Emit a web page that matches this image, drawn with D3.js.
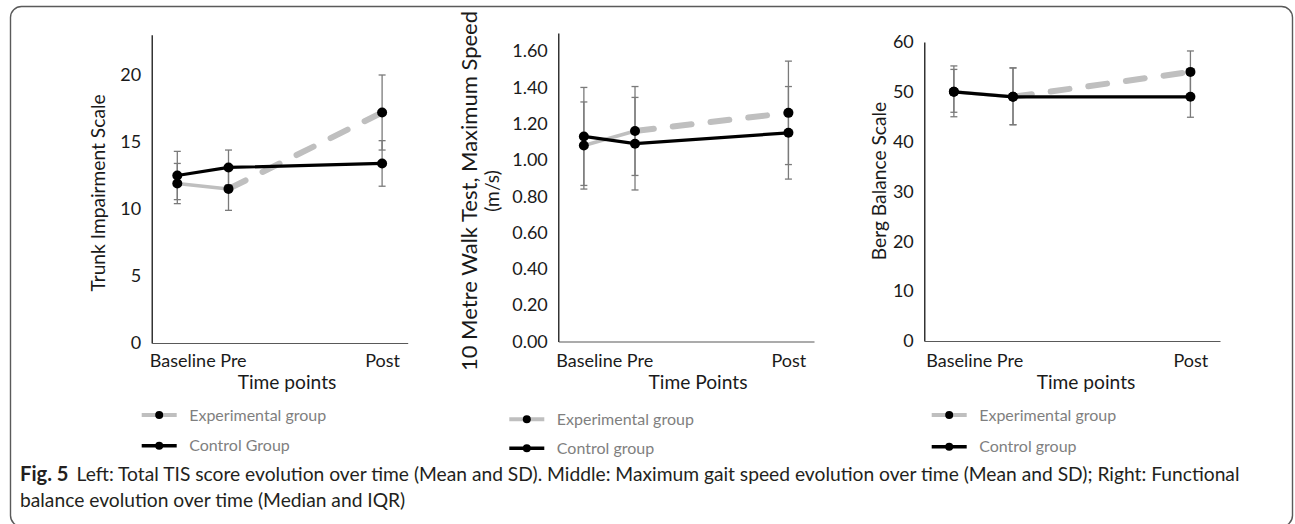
<!DOCTYPE html>
<html><head><meta charset="utf-8">
<script src="https://cdn.jsdelivr.net/npm/d3@7"></script>
<style>
body{margin:0;background:#fff}
svg{display:block}
text{font-family:Lato,"Open Sans",sans-serif}
</style>
</head><body>
<svg id="c" width="1295" height="524"></svg>
<script>
// ---------- DATA ----------
const timeLabels = ["Baseline", "Pre", "Post"];
const timeIndex = [0, 1, 4];

// Left: Trunk Impairment Scale (mean, SD)
const tisExp = [11.9, 11.5, 17.2];
const tisExpSD = [1.5, 1.6, 2.8];
const tisCtl = [12.5, 13.1, 13.4];
const tisCtlSD = [1.8, 1.3, 1.7];
const tisTicks = [0, 5, 10, 15, 20];

// Middle: 10 m walk test max speed (mean, SD)
const gaitExp = [1.08, 1.16, 1.26];
const gaitExpSD = [0.24, 0.245, 0.285];
const gaitCtl = [1.13, 1.09, 1.15];
const gaitCtlSD = [0.27, 0.255, 0.255];
const gaitTicks = [0, 0.2, 0.4, 0.6, 0.8, 1.0, 1.2, 1.4, 1.6];

// Right: Berg Balance Scale (median, IQR)
const bergExp = [50, 49, 54];
const bergExpQ1 = [45, 43.4, 49];
const bergExpQ3 = [55.2, 54.8, 58.2];
const bergCtl = [50, 49, 49];
const bergCtlQ1 = [45.9, 43.4, 44.9];
const bergCtlQ3 = [54.5, 54.8, 54];
const bergTicks = [0, 10, 20, 30, 40, 50, 60];

const captionBold = "Fig. 5";
const captionLine1 = "Left: Total TIS score evolution over time (Mean and SD). Middle: Maximum gait speed evolution over time (Mean and SD); Right: Functional";
const captionLine2 = "balance evolution over time (Median and IQR)";

// ---------- LAYOUT ----------
const sub = (a, b) => a.map((v, i) => v - b[i]);
const add = (a, b) => a.map((v, i) => v + b[i]);

const panels = [
  { exp: tisExp, expLo: sub(tisExp, tisExpSD), expHi: add(tisExp, tisExpSD),
    ctl: tisCtl, ctlLo: sub(tisCtl, tisCtlSD), ctlHi: add(tisCtl, tisCtlSD),
    ticks: tisTicks, fmt: d3.format("d"), yMax: 23,
    xr: [151.7, 407.7], yr: [343, 34.8],
    title: ["Trunk Impairment Scale"], titleX: [98], titleY: 193, titleFs: [19.2],
    xTitle: "Time points", xTitleX: 287,
    legend: ["Experimental group", "Control Group"], lx: 141.7, ly: [415, 445.7] },
  { exp: gaitExp, expLo: sub(gaitExp, gaitExpSD), expHi: add(gaitExp, gaitExpSD),
    ctl: gaitCtl, ctlLo: sub(gaitCtl, gaitCtlSD), ctlHi: add(gaitCtl, gaitCtlSD),
    ticks: gaitTicks, fmt: d3.format(".2f"), yMax: 1.7,
    xr: [558.3, 814], yr: [341.5, 33],
    title: ["10 Metre Walk Test, Maximum Speed", "(m/s)"], titleX: [469, 492], titleY: 191, titleFs: [19.2, 19.2],
    titleFit: 360,
    xTitle: "Time Points", xTitleX: 698,
    legend: ["Experimental group", "Control group"], lx: 509.3, ly: [419.3, 448.3] },
  { exp: bergExp, expLo: bergExpQ1, expHi: bergExpQ3,
    ctl: bergCtl, ctlLo: bergCtlQ1, ctlHi: bergCtlQ3,
    ticks: bergTicks, fmt: d3.format("d"), yMax: 60,
    xr: [924.3, 1220], yr: [341, 42],
    title: ["Berg Balance Scale"], titleX: [879], titleY: 181, titleFs: [19.2],
    xTitle: "Time points", xTitleX: 1086,
    legend: ["Experimental group", "Control group"], lx: 931.7, ly: [415, 446.7] }
];

const GRAY = "#bfbfbf", ERR = "#7a7a7a", TXT = "#1a1a1a";
const TICK_FS = 18, LEG_FS = 16;
const svg = d3.select("#c");

// frame
svg.append("rect").attr("x", 10.5).attr("y", 6.5).attr("width", 1282).attr("height", 520)
  .attr("rx", 11).attr("fill", "none").attr("stroke", "#5a5a5a").attr("stroke-width", 1.4);

panels.forEach(p => {
  const x = d3.scaleLinear().domain([-0.5, 4.5]).range(p.xr);
  const y = d3.scaleLinear().domain([0, p.yMax]).range(p.yr);
  const g = svg.append("g");

  // y axis
  const ya = g.append("g").attr("transform", `translate(${p.xr[0]},0)`)
    .call(d3.axisLeft(y).tickValues(p.ticks).tickFormat(p.fmt).tickSize(0).tickPadding(10.5));
  ya.select(".domain").attr("stroke", "#000").attr("stroke-width", 1.2);
  ya.selectAll("text").attr("font-size", TICK_FS).attr("fill", TXT).attr("font-family", "Lato");

  // x axis
  const xa = g.append("g").attr("transform", `translate(0,${p.yr[0]})`)
    .call(d3.axisBottom(x).tickValues(timeIndex).tickFormat((d, i) => timeLabels[i]).tickSize(0));
  xa.select(".domain").attr("stroke", "#595959").attr("stroke-width", 1.2);
  const xt = xa.selectAll("text").attr("font-size", TICK_FS).attr("fill", TXT).attr("font-family", "Lato")
    .attr("dy", null).attr("y", 367 - p.yr[0]);
  // "Baseline Pre" reads as one phrase under the first two ticks
  const nodes = xt.nodes();
  const tmp = g.append("text").attr("font-size", TICK_FS).attr("font-family", "Lato").text(timeLabels[0] + " " + timeLabels[1]);
  const wAll = tmp.node().getComputedTextLength(); tmp.remove();
  const wPre = nodes[1].getComputedTextLength();
  const startX = x(timeIndex[0]) - 28;
  d3.select(nodes[0]).attr("text-anchor", "start").attr("x", startX - x(timeIndex[0]));
  d3.select(nodes[1]).attr("text-anchor", "start").attr("x", startX + wAll - wPre - x(timeIndex[1]));

  // titles
  p.title.forEach((t, i) => {
    const tt = g.append("text").attr("transform", `translate(${p.titleX[i]},${p.titleY}) rotate(-90)`)
      .attr("text-anchor", "middle").attr("dy", "0.35em").attr("font-size", p.titleFs[i]).attr("fill", TXT).text(t);
    if (p.titleFit && i === 0) {
      const wt = tt.node().getComputedTextLength();
      tt.attr("font-size", p.titleFs[i] * p.titleFit / wt);
    }
  });
  g.append("text").attr("x", p.xTitleX).attr("y", 382).attr("dy", "0.35em").attr("text-anchor", "middle")
    .attr("font-size", 19.2).attr("fill", TXT).text(p.xTitle);

  const pts = s => timeIndex.map((t, i) => [x(t), y(s[i])]);
  const line = d3.line();

  // experimental line: solid first segment, dashed thick afterwards
  const ep = pts(p.exp);
  g.append("path").attr("d", line(ep.slice(0, 2))).attr("fill", "none").attr("stroke", GRAY).attr("stroke-width", 3.5);
  g.append("path").attr("d", line(ep.slice(1))).attr("fill", "none").attr("stroke", GRAY)
    .attr("stroke-width", 6).attr("stroke-dasharray", "19,19").attr("stroke-linecap", "round");
  // control line
  const cp = pts(p.ctl);
  g.append("path").attr("d", line(cp)).attr("fill", "none").attr("stroke", "#000").attr("stroke-width", 3.2);

  // error bars
  [[p.expLo, p.expHi], [p.ctlLo, p.ctlHi]].forEach(([lo, hi]) => {
    timeIndex.forEach((t, i) => {
      const cx = x(t);
      g.append("line").attr("x1", cx).attr("x2", cx).attr("y1", y(lo[i])).attr("y2", y(hi[i]))
        .attr("stroke", ERR).attr("stroke-width", 1.3);
      [lo[i], hi[i]].forEach(v => g.append("line").attr("x1", cx - 3.5).attr("x2", cx + 3.5)
        .attr("y1", y(v)).attr("y2", y(v)).attr("stroke", ERR).attr("stroke-width", 1.3));
    });
  });

  // markers
  [ep, cp].forEach(ps => g.selectAll(null).data(ps).enter().append("circle")
    .attr("cx", d => d[0]).attr("cy", d => d[1]).attr("r", 5).attr("fill", "#000"));

  // legend
  const styles = [{c: GRAY, w: 4}, {c: "#000", w: 3.5}];
  p.legend.forEach((name, i) => {
    const ly = p.ly[i];
    g.append("line").attr("x1", p.lx).attr("x2", p.lx + 35).attr("y1", ly).attr("y2", ly)
      .attr("stroke", styles[i].c).attr("stroke-width", styles[i].w);
    g.append("circle").attr("cx", p.lx + 17.5).attr("cy", ly).attr("r", 4).attr("fill", "#000");
    g.append("text").attr("x", p.lx + 47.5).attr("y", ly).attr("dy", "0.35em").attr("font-size", LEG_FS)
      .attr("fill", "#7f7f7f").text(name);
  });
});

// caption
const cap = svg.append("g").attr("fill", "#231f20");
const t1 = cap.append("text").attr("x", 20).attr("y", 481).attr("font-size", 15);
const tb = t1.append("tspan").attr("font-weight", 700).text(captionBold);
t1.append("tspan").attr("dx", 8).text(captionLine1);
const w = t1.node().getComputedTextLength() + 8;
const fs = 15 * 1220 / w;
t1.attr("font-size", fs);
tb.attr("font-size", fs * 1.05);
cap.append("text").attr("x", 20).attr("y", 507).attr("font-size", fs).text(captionLine2);
</script>
</body></html>
